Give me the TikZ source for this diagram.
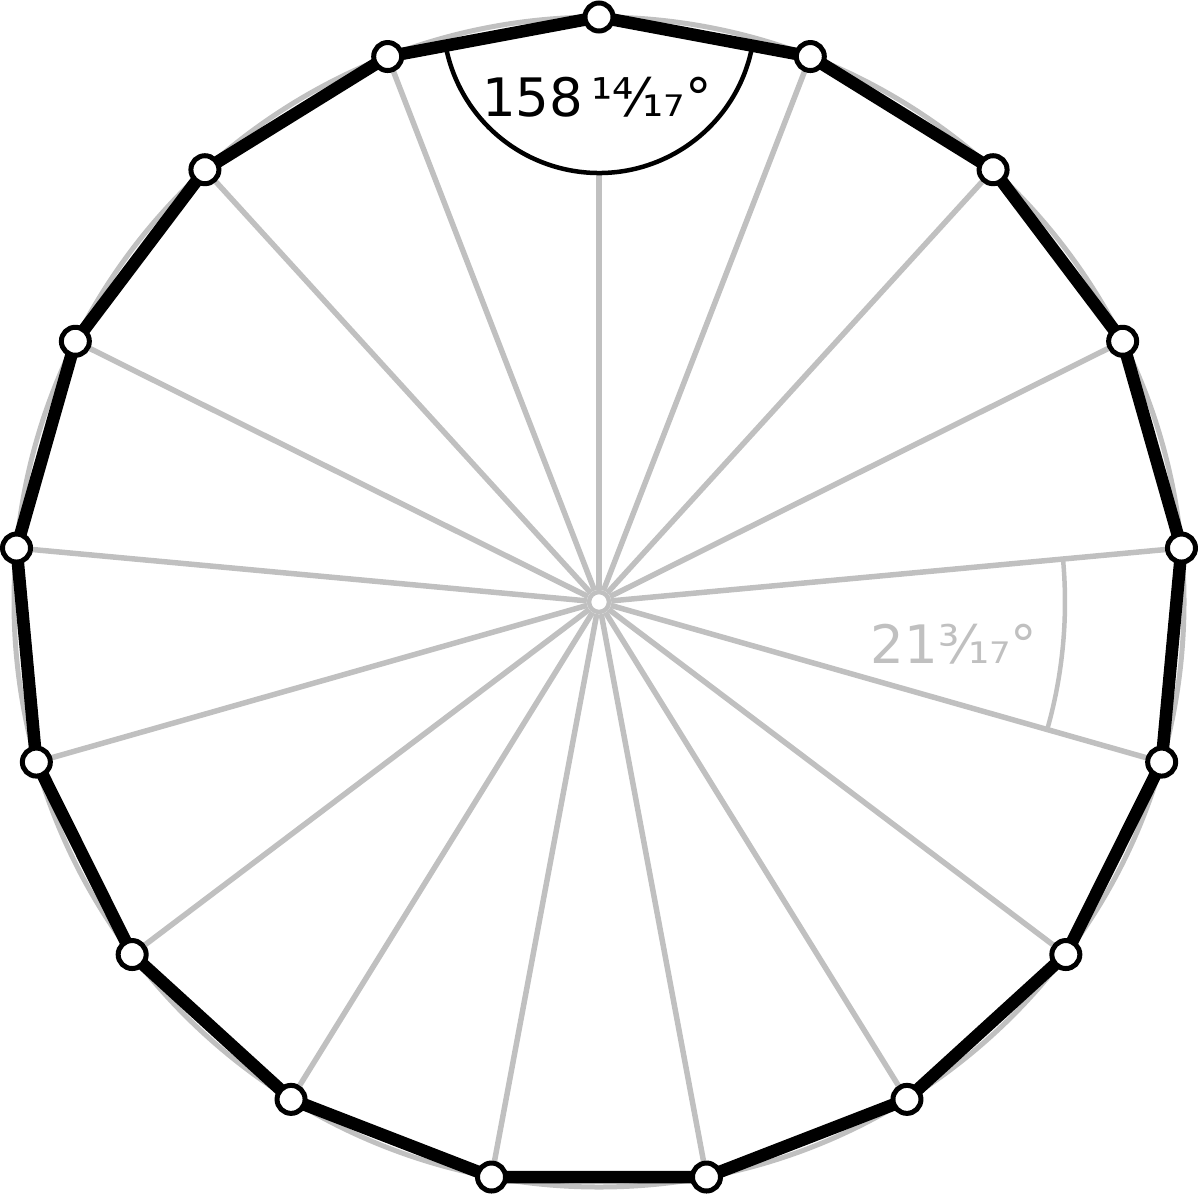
\documentclass[tikz,border=0pt]{standalone}
\usepackage{fontspec}
\setmainfont{DejaVu Sans}
\usetikzlibrary{calc}
\definecolor{lg}{HTML}{C0C0C0}
\pgfdeclarelayer{bg}
\pgfsetlayers{bg,main}
\tikzset{
  vert/.style={circle,draw=black,fill=white,line width=5pt,inner sep=0pt,minimum size=28pt},
  centre/.style={circle,draw=lg,fill=white,line width=4.5pt,inner sep=0pt,minimum size=20pt},
  spoke/.style={draw=lg,line width=5.5pt},
  ring/.style={draw=lg,line width=5pt},
  edge/.style={draw=black,line width=12.5pt,line join=miter},
  anglearc/.style={draw=black,line width=4.5pt},
  lbl/.style={inner sep=0pt,font=\fontsize{53}{60}\selectfont},
}
\begin{document}
\begin{tikzpicture}[x=1pt,y=1pt]
\useasboundingbox (0,-1195) rectangle (1200,0);
\coordinate (c0) at (599,-602);
\node[centre] (c) at (c0) {};
\foreach \k in {0,...,16}
  \node[vert] (v\k) at ($(c0)+({90-\k*360/17}:585)$) {};
\begin{pgfonlayer}{bg}
  \draw[ring] (c0) circle (585);
  \foreach \k in {0,...,16} \draw[spoke] (c) -- (v\k);
  \fill[white] (v0.center) -- ++(-10.588:156) arc[start angle=-10.588, end angle=-169.412, radius=156] -- cycle;
  \draw[anglearc] ($(v0.center)+(-10.588:156)$) arc[start angle=-10.588, end angle=-169.412, radius=156];
  \draw[ring,line width=4.5pt] ($(c0)+(5.294:466)$) arc[start angle=5.294, end angle=-15.882, radius=466];
  \draw[edge] (v0.center) \foreach \k in {1,...,16}{ -- (v\k.center)} -- cycle;
\end{pgfonlayer}
\node[lbl,text=black] (t1) at (597,-97) {158\hspace{0.15em}¹⁴⁄₁₇°};
\node[lbl,text=lg] (t2) at (954,-644) {21³⁄₁₇°};
\end{tikzpicture}
\end{document}
